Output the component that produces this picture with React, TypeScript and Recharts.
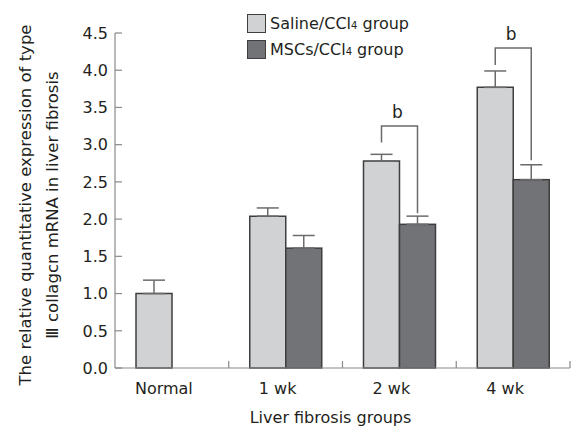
import React from "react";
import {
  BarChart,
  Bar,
  XAxis,
  YAxis,
  ErrorBar,
  Legend,
} from "recharts";

// ---------------------------------------------------------------------------
// Data
// ---------------------------------------------------------------------------

const categories = ["Normal", "1 wk", "2 wk", "4 wk"];
const salineValues = [1.0, 2.04, 2.78, 3.77];
const salineErrors = [0.18, 0.11, 0.09, 0.22];
const mscValues: (number | null)[] = [null, 1.61, 1.93, 2.53];
const mscErrors: (number | null)[] = [null, 0.17, 0.11, 0.2];

// significance brackets: top line, end of left leg, end of right leg
const sigLabels = ["", "", "b", "b"];
const bracketTop: (number | null)[] = [null, null, 3.25, 4.3];
const bracketLeftEnd: (number | null)[] = [null, null, 3.03, 4.07];
const bracketRightEnd: (number | null)[] = [null, null, 2.08, 2.79];

const yTicks = [0, 0.5, 1, 1.5, 2, 2.5, 3, 3.5, 4, 4.5];

// ---------------------------------------------------------------------------
// Layout / style
// ---------------------------------------------------------------------------

const W = 571;
const H = 430;
const MARGIN = { top: 33, right: 1, left: 0, bottom: 22 };
const Y_AXIS_W = 115;
const X_AXIS_H = 40;
const FONT = "'DejaVu Sans', Verdana, sans-serif";
const TEXT = "#231f20";
const AXIS = "#8a8a8a";
const LIGHT = "#d1d2d4";
const DARK = "#727376";
const EDGE = "#3e3e3e";
const WHISKER = "#6b6b6b";

const halfBand = (W - MARGIN.left - MARGIN.right - Y_AXIS_W) / categories.length / 2;

const data = categories.map((name, i) => ({
  name,
  saline: salineValues[i],
  salineErr: [0, salineErrors[i]],
  msc: mscValues[i],
  mscErr: mscErrors[i] == null ? undefined : [0, mscErrors[i]],
  sig: sigLabels[i],
  top: bracketTop[i],
  leftEnd: bracketLeftEnd[i],
  rightEnd: bracketRightEnd[i],
}));

// ===========================================================================
// Custom ticks
// ===========================================================================

function YTick(props: any) {
  const { x, y, payload } = props;
  return (
    <g>
      <line x1={x + 7} x2={x + 14} y1={y} y2={y} stroke={AXIS} strokeWidth={1.2} />
      <text
        x={x}
        y={y}
        dy="0.36em"
        textAnchor="end"
        fontSize={16}
        fontFamily={FONT}
        fill={TEXT}
      >
        {payload.value.toFixed(1)}
      </text>
    </g>
  );
}

function XTick(props: any) {
  const { x, y, payload } = props;
  // tick marks sit on the category boundaries, pointing into the plot
  const axisY = y - 10;
  return (
    <g>
      <line
        x1={x + halfBand}
        x2={x + halfBand}
        y1={axisY}
        y2={axisY - 7}
        stroke={AXIS}
        strokeWidth={1.2}
      />
      <text
        x={x - 8}
        y={y + 16}
        textAnchor="middle"
        fontSize={16}
        fontFamily={FONT}
        fill={TEXT}
      >
        {payload.value}
      </text>
    </g>
  );
}

function YLabel() {
  const cy = 205;
  return (
    <g fontFamily={FONT} fontSize={16.5} fill={TEXT}>
      <text x={25} y={cy} textAnchor="middle" dominantBaseline="central" transform={`rotate(-90 25 ${cy})`}>
        The relative quantitative expression of type
      </text>
      <text x={52} y={cy} textAnchor="middle" dominantBaseline="central" transform={`rotate(-90 52 ${cy})`}>
        Ⅲ collagcn mRNA in liver fibrosis
      </text>
    </g>
  );
}

// ===========================================================================
// Legend
// ===========================================================================

function LegendBox() {
  const rows = [
    { fill: LIGHT, name: "Saline" },
    { fill: DARK, name: "MSCs" },
  ];
  return (
    <div style={{ fontFamily: FONT, fontSize: 16, color: TEXT }}>
      {rows.map((r) => (
        <div key={r.name} style={{ display: "flex", alignItems: "center", height: 26 }}>
          <span
            style={{
              display: "inline-block",
              width: 17,
              height: 17,
              background: r.fill,
              border: `1px solid ${EDGE}`,
              marginRight: 4,
            }}
          />
          <span>
            {r.name}/CCl<span style={{ fontSize: 10 }}>4</span> group
          </span>
        </div>
      ))}
    </div>
  );
}

// ===========================================================================
// MSC bar shape + significance bracket
// ===========================================================================

function MscShape(props: any) {
  const { x, y, width, height, payload } = props;
  if (payload.msc == null) return null;
  const base = y + height;
  const ppu = height / payload.msc; // pixels per unit on the value axis
  let bracket = null;
  if (payload.top != null) {
    const lx = x - width / 2;
    const rx = x + width / 2;
    const ty = base - payload.top * ppu;
    const ly = base - payload.leftEnd * ppu;
    const ry = base - payload.rightEnd * ppu;
    bracket = (
      <g>
        <path
          d={`M${lx},${ly}V${ty}H${rx}V${ry}`}
          fill="none"
          stroke={WHISKER}
          strokeWidth={1.5}
        />
        <text
          x={(lx + rx) / 2 - 2}
          y={ty - 8}
          textAnchor="middle"
          fontSize={17}
          fontFamily={FONT}
          fill={TEXT}
        >
          {payload.sig}
        </text>
      </g>
    );
  }
  return (
    <g>
      <rect x={x} y={y} width={width} height={height} fill={DARK} stroke={EDGE} strokeWidth={1.5} />
      {bracket}
    </g>
  );
}

// ===========================================================================
// Main component
// ===========================================================================

export default function App() {
  return (
    <div style={{ position: "absolute", left: 0, top: 0, width: W, height: H, background: "#fff" }}>
      <BarChart width={W} height={H} data={data} margin={MARGIN} barGap={0} barCategoryGap={0}>
        <XAxis
          dataKey="name"
          height={X_AXIS_H}
          stroke={AXIS}
          strokeWidth={1.2}
          tickLine={false}
          tickSize={0}
          tickMargin={10}
          tick={<XTick />}
          interval={0}
          label={{
            value: "Liver fibrosis groups",
            position: "insideBottom",
            offset: -15,
            fontSize: 16,
            fontFamily: FONT,
            fill: TEXT,
            dx: -12,
          }}
        />
        <YAxis
          width={Y_AXIS_W}
          domain={[0, 4.5]}
          ticks={yTicks}
          stroke={AXIS}
          strokeWidth={1.2}
          tickLine={false}
          tickSize={0}
          tickMargin={7}
          tick={<YTick />}
          interval={0}
          label={<YLabel />}
        />
        {/* vertical + centred so the legend takes no room from the plot */}
        <Legend
          layout="vertical"
          align="center"
          verticalAlign="middle"
          content={<LegendBox />}
          wrapperStyle={{ left: 247, top: 10, width: 200 }}
        />
        <Bar
          dataKey="saline"
          name="Saline/CCl4 group"
          barSize={36}
          fill={LIGHT}
          stroke={EDGE}
          strokeWidth={1.5}
          isAnimationActive={false}
        >
          <ErrorBar dataKey="salineErr" width={11} stroke={WHISKER} strokeWidth={1.5} direction="y" />
        </Bar>
        <Bar
          dataKey="msc"
          name="MSCs/CCl4 group"
          barSize={36}
          fill={DARK}
          shape={<MscShape />}
          isAnimationActive={false}
        >
          <ErrorBar dataKey="mscErr" width={11} stroke={WHISKER} strokeWidth={1.5} direction="y" />
        </Bar>
      </BarChart>
    </div>
  );
}
